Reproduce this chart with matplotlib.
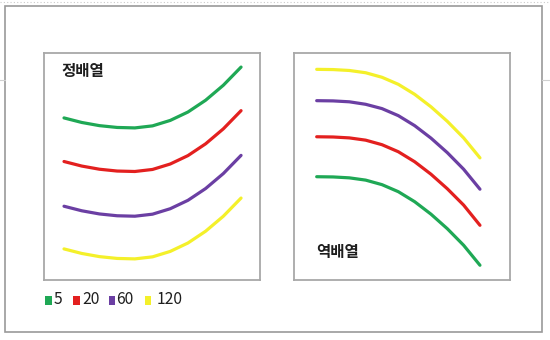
import matplotlib
matplotlib.use("Agg")
import matplotlib.pyplot as plt
from matplotlib.patches import Rectangle
from matplotlib.lines import Line2D

plt.rcParams['font.family'] = ['Noto Sans CJK KR', 'DejaVu Sans']

# Moving-average periods and their colours
periods = ["5", "20", "60", "120"]
colors = ["#1fa855", "#e3201f", "#6b3fa3", "#f4f02a"]

# Common x positions (time steps) for every curve
steps = list(range(11))

# 정배열 (bullish alignment): short MA on top
bull_5 = [71.4, 69.4, 68.0, 67.2, 67.0, 67.9, 70.3, 74.0, 79.2, 85.8, 93.8]
bull_20 = [52.2, 50.2, 48.8, 48.0, 47.8, 48.7, 51.1, 54.8, 60.0, 66.6, 74.6]
bull_60 = [32.5, 30.5, 29.1, 28.3, 28.1, 29.0, 31.4, 35.1, 40.3, 46.9, 54.9]
bull_120 = [13.7, 11.7, 10.3, 9.5, 9.3, 10.2, 12.6, 16.3, 21.5, 28.1, 36.1]

# 역배열 (bearish alignment): long MA on top
bear_5 = [45.5, 45.4, 45.0, 44.0, 42.0, 38.9, 34.5, 29.0, 22.6, 15.3, 6.5]
bear_20 = [63.1, 63.0, 62.6, 61.6, 59.6, 56.5, 52.1, 46.6, 40.2, 33.0, 24.1]
bear_60 = [79.0, 78.9, 78.5, 77.4, 75.5, 72.4, 68.0, 62.5, 56.1, 48.8, 40.0]
bear_120 = [92.8, 92.7, 92.3, 91.3, 89.3, 86.2, 81.8, 76.3, 69.9, 62.6, 53.8]

W, H = 550, 340
fig = plt.figure(figsize=(W / 100, H / 100), dpi=100)
fig.patch.set_facecolor("white")


def fx(px):
    return px / W


def fy(py):
    return 1 - py / H


# outer frame and page dividers
fig.add_artist(Rectangle((fx(5), fy(332)), fx(542) - fx(5), fy(6) - fy(332),
                         transform=fig.transFigure, fill=False,
                         edgecolor="#9a9a9a", linewidth=1.2))
for x0, x1 in [(0, 5), (542, 550)]:
    fig.add_artist(Line2D([fx(x0), fx(x1)], [fy(80), fy(80)],
                          transform=fig.transFigure, color="#d0d0d0", lw=0.8))
fig.add_artist(Line2D([0, 1], [fy(1.5), fy(1.5)], transform=fig.transFigure,
                      color="#cccccc", lw=0.8, linestyle=(0, (1, 2))))

ax1 = fig.add_axes([fx(44), fy(280), fx(260) - fx(44), fy(53) - fy(280)])
ax2 = fig.add_axes([fx(294), fy(280), fx(510) - fx(294), fy(53) - fy(280)])

for ax, series, (xl, xr) in [
    (ax1, [bull_5, bull_20, bull_60, bull_120], (-1.13, 11.07)),
    (ax2, [bear_5, bear_20, bear_60, bear_120], (-1.39, 11.84)),
]:
    for vals, c in zip(series, colors):
        ax.plot(steps, vals, color=c, lw=2.3, solid_capstyle="round",
                solid_joinstyle="round")
    ax.set_xlim(xl, xr)
    ax.set_ylim(0, 100)
    ax.set_xticks([])
    ax.set_yticks([])
    for s in ax.spines.values():
        s.set_color("#a8a8a8")
        s.set_linewidth(1.3)

ax1.text(0.082, 0.921, "정배열", transform=ax1.transAxes, fontsize=11.2,
         fontweight="bold", color="#1e1e1e", va="center", ha="left")
ax2.text(0.102, 0.123, "역배열", transform=ax2.transAxes, fontsize=11.2,
         fontweight="bold", color="#1e1e1e", va="center", ha="left")

# legend row
sq_x = [45.0, 73.0, 108.5, 144.5]
txt_x = [53.5, 82.5, 116.0, 156.5]
for label, c, sx, tx in zip(periods, colors, sq_x, txt_x):
    fig.add_artist(Rectangle((fx(sx), fy(304.5)), 6.5 / W, 8.5 / H,
                             transform=fig.transFigure, color=c, lw=0))
    fig.text(fx(tx), fy(300), label, fontsize=11.3, fontweight="medium",
             color="#1e1e1e", va="center", ha="left")

fig.savefig("out.png", dpi=100)
